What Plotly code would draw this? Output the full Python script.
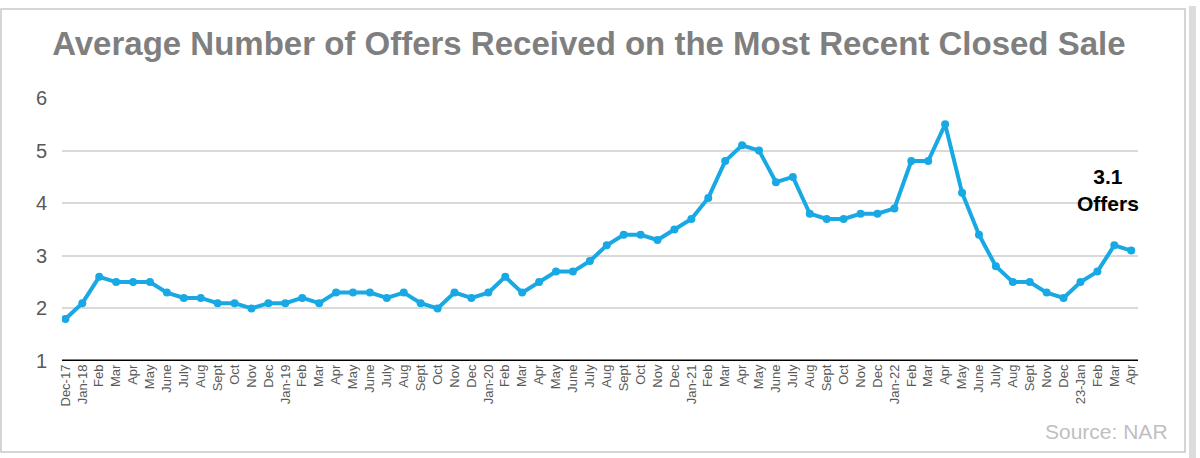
import plotly.graph_objects as go

labels = ["Dec-17", "Jan-18", "Feb", "Mar", "Apr", "May", "June", "July", "Aug", "Sept", "Oct", "Nov", "Dec",
          "Jan-19", "Feb", "Mar", "Apr", "May", "June", "July", "Aug", "Sept", "Oct", "Nov", "Dec",
          "Jan-20", "Feb", "Mar", "Apr", "May", "June", "July", "Aug", "Sept", "Oct", "Nov", "Dec",
          "Jan-21", "Feb", "Mar", "Apr", "May", "June", "July", "Aug", "Sept", "Oct", "Nov", "Dec",
          "Jan-22", "Feb", "Mar", "Apr", "May", "June", "July", "Aug", "Sept", "Nov", "Dec",
          "23-Jan", "Feb", "Mar", "Apr"]

offers = [1.8, 2.1, 2.6, 2.5, 2.5, 2.5, 2.3, 2.2, 2.2, 2.1, 2.1, 2.0, 2.1,
          2.1, 2.2, 2.1, 2.3, 2.3, 2.3, 2.2, 2.3, 2.1, 2.0, 2.3, 2.2,
          2.3, 2.6, 2.3, 2.5, 2.7, 2.7, 2.9, 3.2, 3.4, 3.4, 3.3, 3.5,
          3.7, 4.1, 4.8, 5.1, 5.0, 4.4, 4.5, 3.8, 3.7, 3.7, 3.8, 3.8,
          3.9, 4.8, 4.8, 5.5, 4.2, 3.4, 2.8, 2.5, 2.5, 2.3, 2.2,
          2.5, 2.7, 3.2, 3.1]

y_ticks = [1, 2, 3, 4, 5, 6]

idx = list(range(len(labels)))

fig = go.Figure()
fig.add_trace(go.Scatter(
    x=idx, y=offers, mode="lines+markers",
    line=dict(color="#18a9e4", width=4),
    marker=dict(color="#18a9e4", size=8),
    showlegend=False, hoverinfo="y"
))

L, R = 62, 1138
W = R - L
T, B = 98, 361
H = B - T

def px(p):
    return (p - L) / W

def py(p):
    return (B - p) / H

fig.update_layout(
    width=1200, height=458,
    margin=dict(l=L, r=1200 - R, t=T, b=458 - B),
    paper_bgcolor="white", plot_bgcolor="white",
    title=dict(text="<b>Average Number of Offers Received on the Most Recent Closed Sale</b>",
               x=px(590), xanchor="center", y=1 - 43 / 458, yanchor="middle",
               font=dict(family="Liberation Sans, Arial", size=33, color="#7f7f7f")),
    xaxis=dict(range=[-0.2, len(labels) - 0.6], tickmode="array", tickvals=idx, ticktext=labels,
               tickangle=-90, showgrid=False, zeroline=False, showline=False, ticks="",
               tickfont=dict(family="Liberation Sans Narrow, Arial Narrow, Liberation Sans", size=13, color="#595959")),
    yaxis=dict(range=[1, 6], tickvals=y_ticks, showgrid=True, gridcolor="#d9d9d9", gridwidth=2,
               zeroline=False, showline=False, ticks="", ticklabelstandoff=14,
               tickfont=dict(family="Liberation Sans, Arial", size=20, color="#595959")),
    font=dict(family="Liberation Sans, Arial"),
)

# axis baseline at y=1
fig.add_shape(type="line", xref="paper", yref="y", x0=0, x1=1, y0=1, y1=1,
              line=dict(color="black", width=3))

fig.add_annotation(x=61.6, y=4.25, xref="x", yref="y", text="<b>3.1<br>Offers</b>",
                   showarrow=False, font=dict(family="Liberation Sans, Arial", size=21, color="#000000"),
                   align="center")

fig.add_annotation(x=px(1170), y=py(431), xref="paper", yref="paper", text="Source: NAR",
                   showarrow=False, xanchor="right", yanchor="middle",
                   font=dict(family="Liberation Sans, Arial", size=21, color="#bfbfbf"))

# frame
fig.add_shape(type="rect", xref="paper", yref="paper",
              x0=px(1), x1=px(1185), y0=py(9), y1=py(452),
              line=dict(color="#c8c8c8", width=1.5), layer="below")
fig.add_shape(type="rect", xref="paper", yref="paper",
              x0=px(1189), x1=px(1196), y0=py(6), y1=py(458),
              line=dict(width=0), fillcolor="#dcdcdc", layer="below")

fig.write_html("out.html", config={"displayModeBar": False},
               post_script="document.body.style.margin='0px';")
